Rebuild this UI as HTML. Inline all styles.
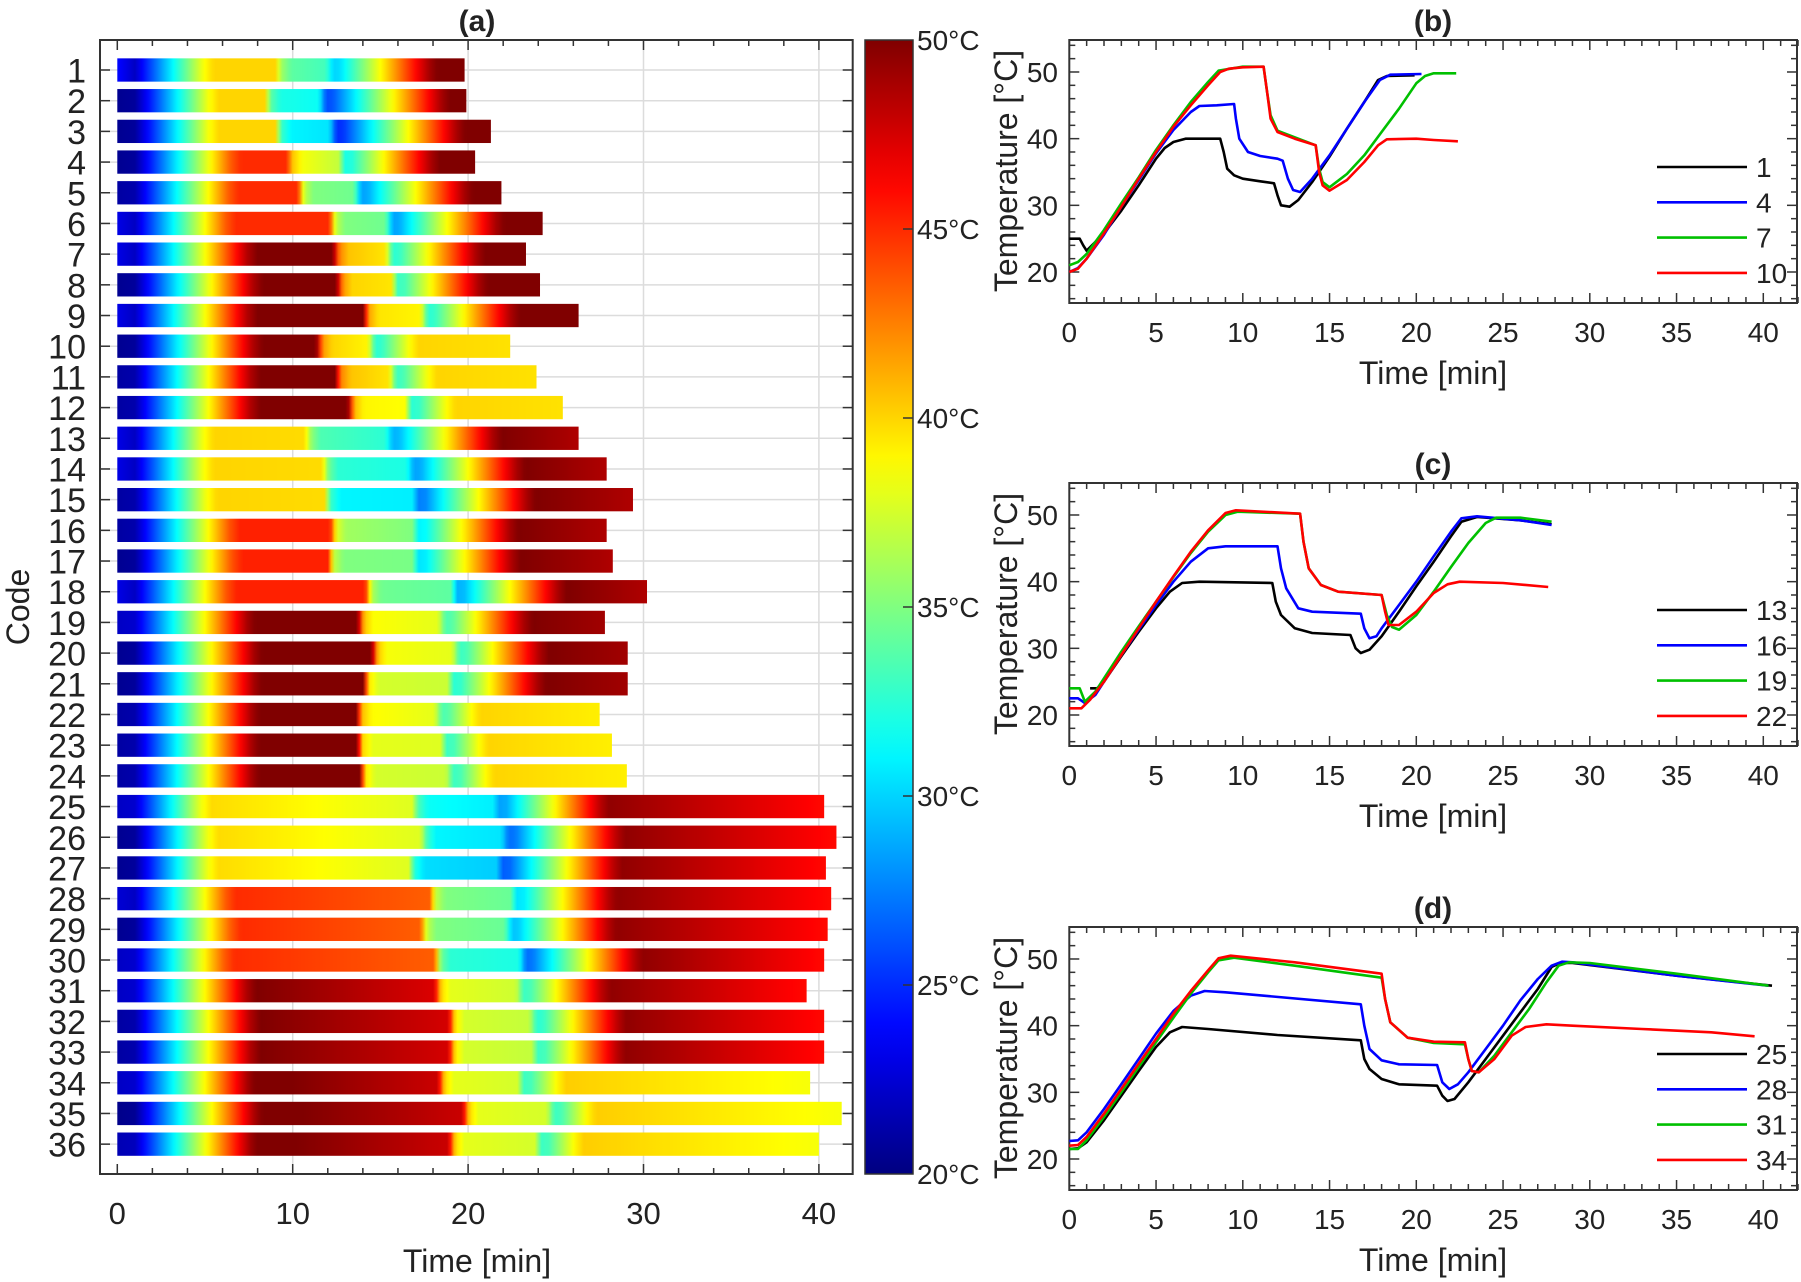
<!DOCTYPE html>
<html><head><meta charset="utf-8"><style>
html,body{margin:0;padding:0;background:#fff;}
svg{display:block;font-family:"Liberation Sans",Arial,sans-serif;}
</style></head><body>
<svg id="s" width="1801" height="1282" viewBox="0 0 1801 1282" xmlns="http://www.w3.org/2000/svg"></svg>
<script>
(function(){
function jet(T){var v=(T-20)/30;v=Math.max(0,Math.min(1,v));
function c(x){return Math.round(255*Math.max(0,Math.min(1,x)));}
return 'rgb('+c(1.5-Math.abs(4*v-3))+','+c(1.5-Math.abs(4*v-2))+','+c(1.5-Math.abs(4*v-1))+')';}
function interp(pts,t){if(t<=pts[0][0])return pts[0][1];for(var i=1;i<pts.length;i++){if(t<=pts[i][0]){var a=pts[i-1],b=pts[i];if(b[0]==a[0])return b[1];return a[1]+(b[1]-a[1])*(t-a[0])/(b[0]-a[0]);}}return pts[pts.length-1][1];}
var P=[
[24,40,40,9.0,34,33.2,11.9,30,50,50,19.8],
[20.5,40,40,8.4,32,31.5,11.5,26,50,50,19.9],
[20.5,40,40,9.0,31,30.5,12.1,25,50,50,21.3],
[20.5,45,45,9.65,38.5,37,12.6,32,50,50,20.4],
[21,45,45,10.3,35,34.5,13.5,28.5,50,50,21.9],
[23,45,45,12.1,35,34.5,15.3,28.5,50,50,24.25],
[23,50,50,12.3,40.5,39.5,15.3,32.5,50,50,23.3],
[20.5,50,50,12.5,40,39.5,15.6,33,50,50,24.1],
[23,50,50,14.0,39.5,39,17.3,32.5,50,50,26.3],
[20.5,50,50,11.35,40,39,14.3,32.5,40,39.6,22.4],
[21,50,50,12.4,40.5,39.5,15.5,33,40,39.6,23.9],
[21,50,50,13.15,39,38.7,16.4,32.5,40,39.6,25.4],
[23,40,39.8,10.7,33.5,32.5,15.3,29,50,48.6,26.3],
[23,40,39.8,11.7,32.5,32,16.5,28.5,50,48.6,27.9],
[21,40,39.8,11.8,31,30.8,16.8,27.5,50,48.6,29.4],
[21,45.3,45.3,12.15,36,35,16.8,31,50,48.6,27.9],
[20.5,45.3,45.3,12.0,35,34.8,16.8,30.5,50,48.6,28.25],
[23,45.3,45.3,14.15,34.5,34,19.0,29,50,48.6,30.2],
[22,50.4,50.2,13.7,38.7,38,18.3,33.5,50,49,27.8],
[20.5,50.4,50.2,14.5,38.5,38,19.1,33,50,49,29.1],
[20.5,50.4,50.2,14.0,37.5,37.2,18.8,32.5,50,49,29.1],
[21,50.4,50.2,13.6,38.8,38,18.1,33.5,40,39.2,27.5],
[21,50.4,50.2,13.65,38,37.8,18.4,33,40,39.2,28.2],
[21,50.4,50.2,13.8,37.5,37.2,18.75,33,40,39.2,29.05],
[22,39.8,37.8,16.8,31.5,30.8,21.4,28.5,49.5,46,40.3],
[20.5,39.8,37.8,17.3,31,30.5,21.9,27,49.5,46,41.0],
[20.5,39.8,37.8,16.6,30.3,29.8,21.6,26.5,49.5,46,40.4],
[22.5,45,43.5,17.8,35,34.3,22.4,30.5,49.5,46,40.7],
[20.5,45,43.5,17.3,35,34.3,22.1,29.5,49.5,46,40.5],
[22,45,43.5,18.1,32.5,32,22.9,27,49.5,46,40.3],
[22,50,47.3,18.1,38,37.3,22.75,33,49.5,46,39.3],
[21,50,47.5,18.9,37.5,37,23.5,32.5,49.5,46,40.3],
[21,50,47.5,18.9,37.5,37,23.6,33,49.5,46,40.3],
[22,50.5,47.8,18.3,38,37.5,22.8,33,40.2,38.5,39.5],
[20.3,50.5,47.8,19.7,38,37.5,24.5,33,40.2,38.5,41.3],
[21.5,50.5,47.8,18.9,38,37.5,23.8,33,40.2,38.5,40.0]];
function prof(p){var s=p[0],T1=p[1],T1e=p[2],b=p[3],T2=p[4],T2e=p[5],c=p[6],Td=p[7],T3=p[8],T3e=p[9],end=p[10];
var p1=s>22?22:s+0.3;var a=1.0+(T1-p1)/4.0;if(a>b-0.3)a=b-0.3;
var e=c+0.8+(T3-Td)/3.6;
var pts=[[0,s],[1.0,p1],[a-0.6,T1-1.5],[a,T1],[b,T1e],[b+0.35,T2+2],[b+0.9,T2],[c,T2e],[c+0.4,Td],[c+0.8,Td+0.3]];
if(e<end){pts.push([e-0.5,T3-1.2],[e,T3],[end,T3e]);}else{pts.push([end,Td+0.3+(end-c-0.8)*3.6]);}
return pts;}
var o='';
function xa(t){return 117.3+t*17.54;}
function ya(i){return 70+(i-1)*30.69;}
var defs='<defs>';
defs+='<linearGradient id="cb" x1="0" y1="1" x2="0" y2="0">';
for(var k=0;k<=30;k++){defs+='<stop offset="'+(k/30)+'" stop-color="'+jet(20+k)+'"/>';}
defs+='</linearGradient>';
for(var r=0;r<36;r++){var p=P[r],pts=prof(p),end=p[10];
defs+='<linearGradient id="g'+r+'" x1="0" y1="0" x2="1" y2="0">';
var n=Math.ceil(end/0.2);for(var k=0;k<=n;k++){var t=Math.min(end,k*0.2);defs+='<stop offset="'+(t/end).toFixed(4)+'" stop-color="'+jet(interp(pts,t))+'"/>';}
defs+='</linearGradient>';}
defs+='</defs>';
o+=defs;
var L=100,R=852.7,TOP=40,BOT=1174;
for(var t=10;t<=40;t+=10)o+='<line x1="'+xa(t)+'" y1="'+TOP+'" x2="'+xa(t)+'" y2="'+BOT+'" stroke="#dcdcdc" stroke-width="1.5"/>';
for(var i=1;i<=36;i++)o+='<line x1="'+L+'" y1="'+ya(i)+'" x2="'+R+'" y2="'+ya(i)+'" stroke="#dcdcdc" stroke-width="1.5"/>';
for(var r=0;r<36;r++){var y=ya(r+1);o+='<rect x="'+xa(0)+'" y="'+(y-11.65)+'" width="'+(xa(P[r][10])-xa(0))+'" height="23.3" fill="url(#g'+r+')"/>';}
o+='<rect x="'+L+'" y="'+TOP+'" width="'+(R-L)+'" height="'+(BOT-TOP)+'" fill="none" stroke="#333" stroke-width="2"/>';
for(var t=0;t<=41;t+=2){var len=(t%10==0)?10:6;var x=xa(t);o+='<line x1="'+x+'" y1="'+BOT+'" x2="'+x+'" y2="'+(BOT-len)+'" stroke="#333" stroke-width="1.5"/><line x1="'+x+'" y1="'+TOP+'" x2="'+x+'" y2="'+(TOP+len)+'" stroke="#333" stroke-width="1.5"/>';}
for(var t=0;t<=40;t+=10)o+='<text x="'+xa(t)+'" y="1224" font-size="31" text-anchor="middle" fill="#222">'+t+'</text>';
for(var i=1;i<=36;i++){var y=ya(i);o+='<line x1="'+L+'" y1="'+y+'" x2="'+(L+10)+'" y2="'+y+'" stroke="#333" stroke-width="1.5"/><line x1="'+R+'" y1="'+y+'" x2="'+(R-10)+'" y2="'+y+'" stroke="#333" stroke-width="1.5"/>';
o+='<text x="86" y="'+(y+12.5)+'" font-size="34" text-anchor="end" fill="#222">'+i+'</text>';}
o+='<text x="477" y="1272" font-size="32" text-anchor="middle" fill="#222">Time [min]</text>';
o+='<text transform="translate(29,607) rotate(-90)" font-size="32" text-anchor="middle" fill="#222">Code</text>';
o+='<text x="477" y="31" font-size="30" font-weight="bold" text-anchor="middle" fill="#222">(a)</text>';
o+='<rect x="865" y="40" width="48" height="1134" fill="url(#cb)" stroke="#333" stroke-width="1.5"/>';
for(var T=20;T<=50;T+=5){var y=1174-(T-20)*37.8;if(T>20&&T<50)o+='<line x1="913" y1="'+y+'" x2="903" y2="'+y+'" stroke="#333" stroke-width="1.5"/>';
o+='<text x="917" y="'+(y+10)+'" font-size="28" fill="#222">'+T+'°C</text>';}
function xr(t){return 1069.3+t*17.35;}
var RL=1069.3,RR=1797;
var curves=[
[
['#000',[[0,25],[0.6,25],[0.8,24],[1,23.2],[1.5,24.5],[2,25.8],[3,29.2],[4,33],[5,37],[5.5,38.6],[6,39.5],[6.7,40],[8.7,40],[8.9,38],[9.1,35.5],[9.5,34.5],[10,34],[11,33.6],[11.8,33.3],[12,31.5],[12.2,30],[12.7,29.8],[13.2,30.8],[14,33.5],[15,37.3],[16,41.5],[17,45.5],[17.8,48.8],[18.3,49.4],[19.9,49.5]]],
['#0000ff',[[0,20],[0.5,20.6],[1,22],[2,25.6],[3,29.8],[4,33.8],[5,37.8],[6,41.3],[7,44],[7.5,44.9],[8.5,45],[9.5,45.2],[9.6,43],[9.8,40],[10.3,38],[11,37.4],[12,37],[12.3,36.7],[12.6,34],[12.9,32.3],[13.3,32],[14,34],[15,37.5],[16,41.5],[17,45.5],[17.9,48.8],[18.5,49.6],[20.3,49.7]]],
['#00c000',[[0,21],[0.5,21.5],[1,22.7],[2,26.3],[3,30.3],[4,34.2],[5,38.3],[6,42],[7,45.5],[8,48.5],[8.6,50.2],[10,50.8],[11.2,50.8],[11.4,47],[11.6,43.5],[12,41.2],[13,40.2],[14.2,39],[14.4,35.5],[14.6,33.5],[15,32.7],[16,34.7],[17,37.5],[18,41],[19,44.5],[20,48.3],[20.5,49.4],[21,49.8],[22.3,49.8]]],
['#ff0000',[[0,20],[0.5,20.5],[1,22],[2,25.8],[3,29.8],[4,34],[5,38],[6,41.8],[7,45],[8,48],[8.7,50],[9.2,50.5],[10,50.7],[11.2,50.8],[11.4,47],[11.6,43],[12,41],[13,40],[14.2,39],[14.4,35],[14.6,33],[15,32.2],[16,33.8],[17,36.5],[17.8,39],[18.3,39.9],[20,40],[21,39.8],[22.4,39.6]]]],
[
['#000',[[1.2,24],[1.6,24],[2,25],[3,28.8],[4,32.5],[5,36],[5.8,38.5],[6.5,39.8],[7.5,40],[11.7,39.8],[11.9,37],[12.2,35],[13,33],[14,32.3],[16.2,32],[16.5,30],[16.8,29.3],[17.3,29.8],[18,31.8],[19,35.5],[20,39.3],[21,43],[22,46.8],[22.6,49],[23.5,49.7],[26,49.2],[27.8,48.6]]],
['#0000ff',[[0,22.5],[0.5,22.5],[0.9,21.8],[1.5,23],[2,25],[3,29],[4,32.8],[5,36.5],[6,40],[7,43],[8,45],[9,45.3],[12,45.3],[12.2,42],[12.5,39],[13.2,36],[14,35.5],[16.8,35.2],[17,33],[17.3,31.5],[17.7,31.8],[18,33],[19,36.5],[20,40],[21,43.8],[22,47.5],[22.6,49.5],[23.5,49.8],[26,49.2],[27.8,48.5]]],
['#00c000',[[0,24],[0.6,24],[0.9,22],[1.5,23.5],[2,25.5],[3,29.5],[4,33.3],[5,37],[6,40.7],[7,44.3],[8,47.5],[9,50],[9.7,50.5],[13.3,50.2],[13.5,46],[13.8,42],[14.5,39.5],[15.5,38.5],[18,38],[18.3,35],[18.6,33.2],[19,32.8],[20,35],[21,38.5],[22,42.2],[23,45.8],[24,48.8],[24.6,49.6],[26,49.6],[27.8,49]]],
['#ff0000',[[0,21],[0.7,21],[1.2,22.3],[2,25],[3,29],[4,33],[5,37],[6,40.8],[7,44.5],[8,47.7],[9,50.3],[9.6,50.7],[13.3,50.2],[13.5,46],[13.8,42],[14.5,39.5],[15.5,38.5],[18,38],[18.2,35.5],[18.4,33.5],[19,33.5],[20,35.5],[21,38.3],[21.8,39.6],[22.5,40],[25,39.8],[27.6,39.2]]]],
[
['#000',[[0,21.5],[0.5,21.6],[1,22.5],[2,25.8],[3,29.5],[4,33.2],[5,36.8],[5.8,39],[6.5,39.8],[8,39.5],[12,38.6],[16.8,37.8],[17,35],[17.3,33.5],[18,32],[19,31.2],[21.2,31],[21.5,29.5],[21.8,28.7],[22.2,29],[23,31.5],[24,35],[25,38.5],[26,42],[27,45.5],[27.8,48.8],[28.3,49.4],[29,49.4],[35,47.5],[40.5,46]]],
['#0000ff',[[0,22.7],[0.5,22.8],[1,24],[2,27.5],[3,31.2],[4,35],[5,38.8],[6,42.2],[7,44.5],[7.8,45.2],[9,45],[16.8,43.2],[17,40],[17.3,36.5],[18,34.8],[19,34.2],[21.2,34.1],[21.5,31.5],[21.9,30.5],[22.4,31.2],[23,33],[24,36.5],[25,40],[26,43.8],[27,47],[27.8,49],[28.4,49.6],[29,49.5],[35,47.5],[40.3,46]]],
['#00c000',[[0,21.5],[0.5,21.5],[1,22.8],[2,26.3],[3,30],[4,33.8],[5,37.5],[6,41.2],[7,44.8],[8,48],[8.6,49.8],[9.5,50.2],[13,49],[18,47.2],[18.2,44],[18.5,40.5],[19.5,38.2],[21,37.4],[22.8,37.2],[23,35],[23.2,33.2],[23.6,33],[24.5,35.5],[25.5,39],[26.5,42.5],[27.5,46.5],[28.2,49],[28.8,49.5],[30,49.4],[35,47.8],[40.3,46]]],
['#ff0000',[[0,22],[0.5,22.1],[1,23.3],[2,26.8],[3,30.5],[4,34.3],[5,38],[6,41.8],[7,45.2],[8,48.3],[8.6,50.1],[9.3,50.5],[13,49.5],[18,47.8],[18.2,44],[18.5,40.5],[19.5,38.2],[21,37.6],[22.8,37.5],[23,35],[23.2,33.2],[23.6,33],[24.5,35],[25.5,38.5],[26.3,39.8],[27.5,40.2],[29,40],[33,39.5],[37,39],[39.5,38.4]]]]];
var labels=[['1','4','7','10'],['13','16','19','22'],['25','28','31','34']];
var titles=['(b)','(c)','(d)'];
var offs=[0,443,887];
for(var pi=0;pi<3;pi++){(function(off,pi){
function yr(T){return off+272-(T-20)*6.667;}
var ptop=off+40,pbot=off+303;
o+='<rect x="'+RL+'" y="'+ptop+'" width="'+(RR-RL)+'" height="'+(pbot-ptop)+'" fill="none" stroke="#333" stroke-width="2"/>';
for(var t=0;t<=42;t++){var len=(t%5==0)?10:6;var x=xr(t);o+='<line x1="'+x+'" y1="'+pbot+'" x2="'+x+'" y2="'+(pbot-len)+'" stroke="#333" stroke-width="1.5"/><line x1="'+x+'" y1="'+ptop+'" x2="'+x+'" y2="'+(ptop+len)+'" stroke="#333" stroke-width="1.5"/>';}
for(var T=16;T<=54;T+=2){var len=(T%10==0)?10:6;var y=yr(T);o+='<line x1="'+RL+'" y1="'+y+'" x2="'+(RL+len)+'" y2="'+y+'" stroke="#333" stroke-width="1.5"/><line x1="'+RR+'" y1="'+y+'" x2="'+(RR-len)+'" y2="'+y+'" stroke="#333" stroke-width="1.5"/>';}
for(var t=0;t<=40;t+=5)o+='<text x="'+xr(t)+'" y="'+(off+342)+'" font-size="28" text-anchor="middle" fill="#222">'+t+'</text>';
for(var T=20;T<=50;T+=10)o+='<text x="1058" y="'+(yr(T)+10)+'" font-size="28" text-anchor="end" fill="#222">'+T+'</text>';
o+='<text x="1433" y="'+(off+384)+'" font-size="32" text-anchor="middle" fill="#222">Time [min]</text>';
o+='<text transform="translate(1017,'+(off+171)+') rotate(-90)" font-size="32" text-anchor="middle" fill="#222">Temperature [°C]</text>';
o+='<text x="1433" y="'+(off+31)+'" font-size="30" font-weight="bold" text-anchor="middle" fill="#222">'+titles[pi]+'</text>';
var cs=curves[pi];
for(var ci=0;ci<4;ci++){var d='';cs[ci][1].forEach(function(q,j){d+=(j?'L':'M')+xr(q[0]).toFixed(1)+','+yr(q[1]).toFixed(1);});
o+='<path d="'+d+'" fill="none" stroke="'+cs[ci][0]+'" stroke-width="2.6" stroke-linejoin="round"/>';}
for(var ci=0;ci<4;ci++){var y=off+167+ci*35.3;o+='<line x1="1657" y1="'+y+'" x2="1747" y2="'+y+'" stroke="'+cs[ci][0]+'" stroke-width="2.6"/><text x="1756" y="'+(y+10)+'" font-size="28" fill="#222">'+labels[pi][ci]+'</text>';}
})(offs[pi],pi);}
document.getElementById('s').innerHTML=o;
})();
</script>
</body></html>
